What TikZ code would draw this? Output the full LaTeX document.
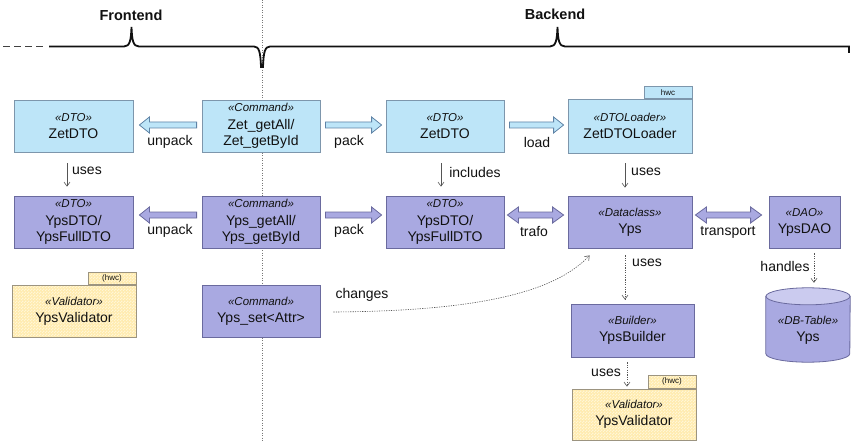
\documentclass[tikz,border=0pt]{standalone}
\usepackage{fontspec}
\setmainfont{Liberation Sans}
\usetikzlibrary{calc,arrows.meta,patterns}
\definecolor{bfill}{HTML}{BDE5F8}
\definecolor{bdraw}{HTML}{7D96AC}
\definecolor{bardraw}{HTML}{5F83A6}
\definecolor{pfill}{HTML}{A9A9E1}
\definecolor{pdraw}{HTML}{6A6A9E}
\definecolor{ptop}{HTML}{CBCBEF}
\definecolor{yfill}{HTML}{FFEBAF}
\definecolor{ylight}{HTML}{FFF6D6}
\definecolor{ydraw}{HTML}{9C9480}
\definecolor{txt}{HTML}{111111}
\definecolor{lgray}{HTML}{555555}
\pgfdeclarepatternformonly{finecheck}{\pgfpointorigin}{\pgfqpoint{3pt}{3pt}}{\pgfqpoint{3pt}{3pt}}{%
  \pgfpathrectangle{\pgfpointorigin}{\pgfqpoint{1.5pt}{1.5pt}}%
  \pgfpathrectangle{\pgfqpoint{1.5pt}{1.5pt}}{\pgfqpoint{1.5pt}{1.5pt}}%
  \pgfusepath{fill}}
\newcommand\stt[1]{{\fontsize{11.5}{13}\selectfont\itshape «#1»}}
% block arrow pointing right: #1 source, #2 target, #3 style, #4 vertical offset
\newcommand\blockR[4]{%
  \draw[#3] let \p1=($(#1.east)+(5,#4)$), \p2=($(#2.west)+(-4,#4)$) in
  (\x1,\y1+3) -- (\x2-10,\y1+3) -- (\x2-10,\y1+8) -- (\x2,\y1) -- (\x2-10,\y1-8) -- (\x2-10,\y1-3) -- (\x1,\y1-3) -- cycle;}
% block arrow pointing left: #1 source (right), #2 target (left)
\newcommand\blockL[4]{%
  \draw[#3] let \p1=($(#1.west)+(-5,#4)$), \p2=($(#2.east)+(6,#4)$) in
  (\x1,\y1+3) -- (\x2+10,\y1+3) -- (\x2+10,\y1+8) -- (\x2,\y1) -- (\x2+10,\y1-8) -- (\x2+10,\y1-3) -- (\x1,\y1-3) -- cycle;}
% double block arrow: #1 left node, #2 right node
\newcommand\blockLR[5]{%
  \draw[#3] let \p1=($(#1.east)+(3,#4)$), \p2=($(#2.west)+(-#5,#4)$) in
  (\x1,\y1) -- (\x1+11,\y1+8) -- (\x1+11,\y1+3) -- (\x2-11,\y1+3) -- (\x2-11,\y1+8) -- (\x2,\y1) -- (\x2-11,\y1-8) -- (\x2-11,\y1-3) -- (\x1+11,\y1-3) -- (\x1+11,\y1-8) -- cycle;}
\begin{document}
\begin{tikzpicture}[x=1pt,y=-1pt,
  box/.style={draw, line width=0.8pt, minimum width=118pt, minimum height=52pt, align=center, inner sep=1pt, font=\fontsize{14}{16}\selectfont, text=txt},
  bbox/.style={box, fill=bfill, draw=bdraw},
  pbox/.style={box, fill=pfill, draw=pdraw},
  ybox/.style={box, preaction={fill=yfill}, pattern=finecheck, pattern color=ylight, draw=ydraw},
  tabbox/.style={draw, line width=0.8pt, minimum width=48pt, minimum height=11.5pt, inner sep=0pt, font=\fontsize{8}{9}\selectfont, text=txt, anchor=south east},
  barB/.style={fill=bfill, draw=bardraw, line width=0.8pt},
  barP/.style={fill=pfill, draw=pdraw, line width=0.8pt},
  lbl/.style={font=\fontsize{14}{16}\selectfont, text=txt, inner sep=0pt},
  hdr/.style={font=\fontsize{14.5}{16}\selectfont\bfseries, text=txt, inner sep=0pt},
  usesarr/.style={draw=lgray, line width=0.6pt, -{Straight Barb[length=4pt,width=6pt]}},
  dotarr/.style={draw=lgray, line width=0.6pt, dash pattern=on 1.2pt off 1.2pt, -{Straight Barb[length=4pt,width=6pt]}}
]
\useasboundingbox[fill=white] (0,0) rectangle (851,441);

% divider and header line
\draw[lgray!80, line width=0.5pt, dash pattern=on 1pt off 1.5pt] (262,0) -- (262,441);
\draw[txt!80, line width=1.8pt, dash pattern=on 7pt off 4pt] (3,46.5) -- (44,46.5);
\draw[txt, line width=1.8pt] (49,46.5) -- (124,46.5) .. controls (130,46.5) and (131,40) .. (131.5,27)
  .. controls (132,40) and (133,46.5) .. (139,46.5) -- (254,46.5)
  .. controls (259,46.5) and (260.5,52) .. (261,67)
  .. controls (261.5,67) and (262.5,67) .. (263,67)
  .. controls (263.5,52) and (265,46.5) .. (270,46.5) -- (550,46.5)
  .. controls (556,46.5) and (557,40) .. (557.5,27)
  .. controls (558,40) and (559,46.5) .. (565,46.5) -- (849,46.5) -- (849,53);
\node[hdr] (front) at (131,15) {Frontend};
\node[hdr] (back) at (555,14) {Backend};

% row 1
\node[bbox, minimum width=119pt] (zdtoF) at (73.5,126) {\stt{DTO}\\[1pt]ZetDTO};
\node[bbox] (zcmd) at (261,126) {\stt{Command}\\[2pt]Zet\_getAll/\\Zet\_getById};
\node[bbox] (zdtoB) at (445,126) {\stt{DTO}\\[1pt]ZetDTO};
\node[bbox, minimum width=124pt, minimum height=54pt] (zload) at (630,126) {\stt{DTOLoader}\\[1pt]ZetDTOLoader};
\node[tabbox, fill=bfill, draw=bdraw] (zltab) at (zload.north east) {hwc};

% row 2
\node[pbox, minimum width=119pt] (ydtoF) at (73.5,222) {\stt{DTO}\\[2pt]YpsDTO/\\YpsFullDTO};
\node[pbox] (ycmd) at (261,222) {\stt{Command}\\[2pt]Yps\_getAll/\\Yps\_getById};
\node[pbox] (ydtoB) at (445,222) {\stt{DTO}\\[2pt]YpsDTO/\\YpsFullDTO};
\node[pbox, minimum width=124pt] (yps) at (630,222) {\stt{Dataclass}\\[1pt]Yps};
\node[pbox, minimum width=71pt] (ydao) at (804.5,222) {\stt{DAO}\\[1pt]YpsDAO};

% row 3
\node[ybox, minimum width=124pt] (yvalF) at (74,311) {\stt{Validator}\\[1pt]YpsValidator};
\node[tabbox, preaction={fill=yfill}, pattern=finecheck, pattern color=ylight, draw=ydraw, minimum height=12pt] (yvftab) at (yvalF.north east) {(hwc)};
\node[pbox] (yset) at (261,311) {\stt{Command}\\[1pt]Yps\_set<Attr>};
\node[pbox, minimum width=123pt, minimum height=53pt] (ybuild) at (632.5,330.5) {\stt{Builder}\\[1pt]YpsBuilder};
\node[ybox, minimum width=124pt, minimum height=51pt] (yvalB) at (634,414.5) {\stt{Validator}\\[1pt]YpsValidator};
\node[tabbox, preaction={fill=yfill}, pattern=finecheck, pattern color=ylight, draw=ydraw, minimum height=13pt] (yvbtab) at (yvalB.north east) {(hwc)};

% DB table cylinder
\node[inner sep=0pt, minimum width=84pt, minimum height=74pt] (dbt) at (808,325) {};
\draw[fill=pfill, draw=pdraw, line width=0.8pt] ($(dbt.north west)+(0,8.5)$) -- ($(dbt.south west)+(0,-8.5)$)
  arc[start angle=180, end angle=360, x radius=42pt, y radius=8.5pt] -- ($(dbt.north east)+(0,8.5)$) -- cycle;
\draw[fill=ptop, draw=pdraw, line width=0.8pt] ($(dbt.north)+(0,8.5)$) ellipse[x radius=42pt, y radius=8.5pt];
\node[align=center, font=\fontsize{14}{16}\selectfont, text=txt, inner sep=0pt] (dbtxt) at ($(dbt)+(0,5)$) {\stt{DB-Table}\\[1pt]Yps};

% block arrows
\blockL{zcmd}{zdtoF}{barB}{-1}
\blockR{zcmd}{zdtoB}{barB}{-1}
\blockR{zdtoB}{zload}{barB}{-1}
\blockL{ycmd}{ydtoF}{barP}{-7}
\blockR{ycmd}{ydtoB}{barP}{-7}
\blockLR{ydtoB}{yps}{barP}{-7}{4}
\blockLR{yps}{ydao}{barP}{-7}{7}

% labels on block arrows
\node[lbl] (l1) at (170,142) {unpack};
\node[lbl] (l2) at (349,142) {pack};
\node[lbl] (l3) at (537,142) {load};
\node[lbl] (l4) at (170,231) {unpack};
\node[lbl] (l5) at (349,231) {pack};
\node[lbl] (l6) at (534,232) {trafo};
\node[lbl] (l7) at (728,232) {transport};

% thin arrows
\draw[usesarr, shorten <=11pt, shorten >=9pt] ($(zdtoF.south)+(-6.5,0)$) -- ($(ydtoF.north)+(-6.5,0)$);
\draw[usesarr, shorten <=11pt, shorten >=9pt] ($(zdtoB.south)+(-4,0)$) -- ($(ydtoB.north)+(-4,0)$);
\draw[usesarr, shorten <=10pt, shorten >=8pt] ($(zload.south)+(-5,0)$) -- ($(yps.north)+(-5,0)$);
\node[lbl] (u1) at (87,171) {uses};
\node[lbl] (u2) at (475,172) {includes};
\node[lbl] (u3) at (646,172) {uses};

% dotted arrows
\draw[dotarr, shorten <=7pt, shorten >=4pt] ($(yps.south)+(-5,0)$) -- ($(ybuild.north)+(-7.5,0)$);
\draw[dotarr, shorten <=5pt, shorten >=5pt] ($(ydao.south)+(9.5,0)$) -- ($(dbt.north)+(6,0)$);
\draw[dotarr, shorten <=5pt, shorten >=2pt] ($(ybuild.south)+(-5.5,0)$) -- ($(yvalB.north)+(-7,0)$);
\node[lbl] (u4) at (647,263) {uses};
\node[lbl] (u5) at (785,266) {handles};
\node[lbl] (u6) at (606,373) {uses};

% changes
\coordinate (chs) at ($(yset.east)+(13,1)$);
\coordinate (che) at ($(yps.south west)+(22,7)$);
\draw[dotarr] (chs) .. controls (480,311) and (555,292) .. (che);
\node[lbl] (lch) at (362,295) {changes};
\end{tikzpicture}
\end{document}
